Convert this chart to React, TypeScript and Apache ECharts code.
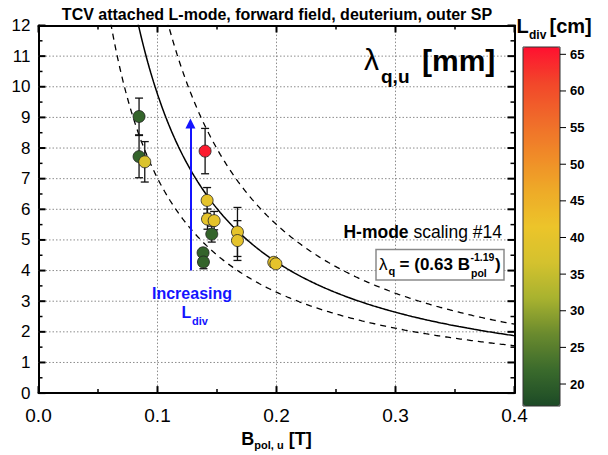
import React, { useEffect, useRef } from "react";
import * as echarts from "echarts";

const FONT = '"Liberation Sans", Arial, Helvetica, sans-serif';

// Measured points: B_pol,u [T], lambda_q,u [mm], error [mm], L_div [cm]
const B_POL = [0.0845, 0.0845, 0.0893, 0.140, 0.1417, 0.142, 0.1476, 0.1456, 0.1672, 0.1672, 0.1383, 0.1386, 0.1977, 0.1995];
const LAMBDA = [9.03, 7.72, 7.55, 7.90, 6.29, 5.68, 5.63, 5.19, 5.26, 4.98, 4.58, 4.28, 4.27, 4.22];
const LAMBDA_ERR = [0.60, 0.69, 0.66, 0.74, 0.42, 0.33, 0.30, 0.26, 0.80, 0.65, 0.13, 0.22, 0.15, 0.12];
const L_DIV = [21, 21, 38, 65, 40, 40, 40, 21, 40, 40, 21, 21, 40, 40];

// H-mode scaling #14 and its band (coefficient, exponent)
const FIT_MAIN = [0.63, 1.19];
const FIT_UPPER = [0.69, 1.29];
const FIT_LOWER = [0.57, 1.09];
const FIT_X_RANGE = [0.05, 0.4];

// Axes and ticks
const X_RANGE = [0, 0.4];
const Y_RANGE = [0, 12];
const X_MAJOR = [0, 0.1, 0.2, 0.3, 0.4];
const X_MINOR = [0.05, 0.15, 0.25, 0.35];
const Y_MAJOR = [0, 1, 2, 3, 4, 5, 6, 7, 8, 9, 10, 11, 12];
const Y_MINOR = [0.5, 1.5, 2.5, 3.5, 4.5, 5.5, 6.5, 7.5, 8.5, 9.5, 10.5, 11.5];
const X_GRID = [0.1, 0.2, 0.3];
const Y_GRID = [1, 2, 3, 4, 5, 6, 7, 8, 9, 10, 11];

// Colour bar
const CBAR_RANGE = [17, 66];
const CBAR_TICKS = [20, 25, 30, 35, 40, 45, 50, 55, 60, 65];
const CBAR_COLORS = ["#1c4a26", "#3a6a2c", "#6a8a2e", "#a8b22f", "#d4c22e", "#ecc42a", "#eeaa28", "#f08a28", "#f06a2a", "#f2462a", "#ff1030"];

// Arrow "Increasing L_div"
const ARROW_X = 0.1277;
const ARROW_Y = [4.0, 8.8];

function fitCurve(p: number[]) {
  const pts: number[][] = [];
  const n = 300;
  for (let i = 0; i <= n; i++) {
    const x = FIT_X_RANGE[0] + ((FIT_X_RANGE[1] - FIT_X_RANGE[0]) * i) / n;
    pts.push([x, p[0] * Math.pow(x, -p[1])]);
  }
  return pts;
}

const txt = (x: number, y: number, text: string, size: number, bold: boolean, extra: any = {}) => ({
  type: "text",
  x,
  y,
  z: 100,
  style: {
    text,
    fontFamily: FONT,
    fontSize: size,
    fontWeight: bold ? "bold" : "normal",
    fill: "#000",
    align: "left",
    verticalAlign: "middle",
    ...extra,
  },
});

export default function App() {
  const ref = useRef<HTMLDivElement>(null);
  useEffect(() => {
    if (!ref.current) return;
    const chart = echarts.init(ref.current, null, { renderer: "svg" });
    const scatterData = B_POL.map((x, i) => [x, LAMBDA[i], L_DIV[i]]);
    const errData = B_POL.map((x, i) => [x, LAMBDA[i] - LAMBDA_ERR[i], LAMBDA[i] + LAMBDA_ERR[i]]);
    // decoration items: [kind, value]
    const deco: number[][] = [
      ...X_GRID.map((v) => [0, v]),
      ...Y_GRID.map((v) => [1, v]),
      ...X_MAJOR.map((v) => [2, v]),
      ...X_MINOR.map((v) => [3, v]),
      ...Y_MAJOR.map((v) => [4, v]),
      ...Y_MINOR.map((v) => [5, v]),
    ];

    const plainAxis = {
      type: "value",
      axisLine: { show: true, onZero: false, lineStyle: { color: "#000", width: 2 } },
      axisTick: { show: false },
      minorTick: { show: false },
      splitLine: { show: false },
    };

    chart.setOption({
      animation: false,
      textStyle: { fontFamily: FONT },
      grid: [
        { left: 38.5, top: 25.5, width: 476, height: 382, show: false },
        { left: 523, top: 47, width: 37, height: 359, show: true, borderColor: "#333", borderWidth: 1, backgroundColor: "transparent", z: 10 },
      ],
      xAxis: [
        {
          ...plainAxis,
          gridIndex: 0,
          position: "bottom",
          min: X_RANGE[0],
          max: X_RANGE[1],
          interval: 0.1,
          axisLabel: { fontSize: 19, color: "#000", margin: 13, formatter: (v: number) => v.toFixed(1) },
          name: "{b|B}{s|pol, u}{b| [T]}",
          nameLocation: "middle",
          nameGap: 32,
          nameTextStyle: {
            rich: {
              b: { fontSize: 18, fontWeight: "bold", color: "#000", lineHeight: 22 },
              s: { fontSize: 11, fontWeight: "bold", color: "#000", lineHeight: 10, verticalAlign: "bottom" },
            },
          },
        },
        { ...plainAxis, gridIndex: 0, position: "top", min: X_RANGE[0], max: X_RANGE[1], interval: 0.1, axisLabel: { show: false } },
        { type: "value", gridIndex: 1, min: 0, max: 1, show: false },
      ],
      yAxis: [
        {
          ...plainAxis,
          gridIndex: 0,
          position: "left",
          min: Y_RANGE[0],
          max: Y_RANGE[1],
          interval: 1,
          axisLabel: { fontSize: 17, color: "#000", margin: 8 },
        },
        { ...plainAxis, gridIndex: 0, position: "right", min: Y_RANGE[0], max: Y_RANGE[1], interval: 1, axisLabel: { show: false } },
        {
          type: "value",
          gridIndex: 1,
          position: "right",
          min: CBAR_RANGE[0],
          max: CBAR_RANGE[1],
          axisLine: { show: false },
          axisTick: { show: false },
          splitLine: { show: false },
          axisLabel: { show: true, customValues: CBAR_TICKS, fontSize: 13, fontWeight: "bold", color: "#000", margin: 10 },
        },
      ],
      visualMap: {
        type: "continuous",
        min: CBAR_RANGE[0],
        max: CBAR_RANGE[1],
        dimension: 2,
        seriesIndex: 0,
        left: 523,
        top: 47,
        itemWidth: 37,
        itemHeight: 359,
        padding: 0,
        calculable: false,
        inRange: { color: CBAR_COLORS },
      },
      series: [
        {
          type: "scatter",
          xAxisIndex: 0,
          yAxisIndex: 0,
          data: scatterData,
          symbolSize: 12,
          z: 6,
          itemStyle: { borderColor: "#222", borderWidth: 0.8, opacity: 1 },
        },
        {
          type: "custom",
          xAxisIndex: 0,
          yAxisIndex: 0,
          z: 4,
          silent: true,
          data: errData,
          encode: { x: 0, y: [1, 2] },
          renderItem: (params: any, api: any) => {
            const x = api.value(0);
            const p1 = api.coord([x, api.value(2)]);
            const p2 = api.coord([x, api.value(1)]);
            const w = 4;
            const st = { stroke: "#111", lineWidth: 1.3 };
            return {
              type: "group",
              children: [
                { type: "line", shape: { x1: p1[0], y1: p1[1], x2: p2[0], y2: p2[1] }, style: st },
                { type: "line", shape: { x1: p1[0] - w, y1: p1[1], x2: p1[0] + w, y2: p1[1] }, style: st },
                { type: "line", shape: { x1: p2[0] - w, y1: p2[1], x2: p2[0] + w, y2: p2[1] }, style: st },
              ],
            };
          },
        },
        {
          type: "line",
          xAxisIndex: 0,
          yAxisIndex: 0,
          data: fitCurve(FIT_MAIN),
          showSymbol: false,
          symbol: "none",
          clip: true,
          z: 3,
          lineStyle: { color: "#000", width: 1.5 },
          silent: true,
          markLine: {
            silent: true,
            symbol: ["none", "triangle"],
            symbolSize: 10,
            label: { show: false },
            lineStyle: { color: "#1414ff", width: 2, type: "solid" },
            data: [[{ coord: [ARROW_X, ARROW_Y[0]] }, { coord: [ARROW_X, ARROW_Y[1]] }]],
          },
        },
        {
          type: "line",
          xAxisIndex: 0,
          yAxisIndex: 0,
          data: fitCurve(FIT_UPPER),
          showSymbol: false,
          symbol: "none",
          clip: true,
          z: 3,
          silent: true,
          lineStyle: { color: "#000", width: 1.3, type: [6, 5] },
        },
        {
          type: "line",
          xAxisIndex: 0,
          yAxisIndex: 0,
          data: fitCurve(FIT_LOWER),
          showSymbol: false,
          symbol: "none",
          clip: true,
          z: 3,
          silent: true,
          lineStyle: { color: "#000", width: 1.3, type: [6, 5] },
        },
        {
          // grid lines and inward ticks on all four sides
          type: "custom",
          xAxisIndex: 0,
          yAxisIndex: 0,
          z: 1,
          silent: true,
          data: deco,
          renderItem: (params: any, api: any) => {
            const kind = api.value(0);
            const v = api.value(1);
            const lb = api.coord([X_RANGE[0], Y_RANGE[0]]);
            const rt = api.coord([X_RANGE[1], Y_RANGE[1]]);
            const dotted = { stroke: "#8c8c8c", lineWidth: 1, lineDash: [1.5, 2] };
            if (kind === 0) {
              const p = api.coord([v, Y_RANGE[0]]);
              return { type: "line", shape: { x1: p[0], y1: lb[1], x2: p[0], y2: rt[1] }, style: dotted };
            }
            if (kind === 1) {
              const p = api.coord([X_RANGE[0], v]);
              return { type: "line", shape: { x1: lb[0], y1: p[1], x2: rt[0], y2: p[1] }, style: dotted };
            }
            const major = kind === 2 || kind === 4;
            const len = major ? 7 : 4;
            const st = { stroke: "#000", lineWidth: major ? 2 : 1.5 };
            if (kind === 2 || kind === 3) {
              const p = api.coord([v, Y_RANGE[0]]);
              return {
                type: "group",
                children: [
                  { type: "line", shape: { x1: p[0], y1: lb[1], x2: p[0], y2: lb[1] - len }, style: st },
                  { type: "line", shape: { x1: p[0], y1: rt[1], x2: p[0], y2: rt[1] + len }, style: st },
                ],
              };
            }
            const p = api.coord([X_RANGE[0], v]);
            return {
              type: "group",
              children: [
                { type: "line", shape: { x1: lb[0], y1: p[1], x2: lb[0] + len, y2: p[1] }, style: st },
                { type: "line", shape: { x1: rt[0], y1: p[1], x2: rt[0] - len, y2: p[1] }, style: st },
              ],
            };
          },
        },
        {
          // colour-bar ticks
          type: "custom",
          xAxisIndex: 2,
          yAxisIndex: 2,
          z: 11,
          silent: true,
          data: CBAR_TICKS.map((v) => [1, v]),
          renderItem: (params: any, api: any) => {
            const p = api.coord([1, api.value(1)]);
            return { type: "line", shape: { x1: p[0], y1: p[1], x2: p[0] + 6, y2: p[1] }, style: { stroke: "#000", lineWidth: 1 } };
          },
        },
      ],
      graphic: [
        txt(277, 14, "TCV attached L-mode, forward field, deuterium, outer SP", 16, true, { align: "center" }),
        // lambda_q,u [mm]
        txt(364, 59, "λ", 30, false),
        txt(381, 76, "q,u", 19, true),
        txt(422, 60, "[mm]", 30, true),
        // H-mode scaling #14
        {
          type: "text",
          x: 502,
          y: 232,
          z: 100,
          style: {
            text: "{b|H-mode}{r| scaling #14}",
            align: "right",
            verticalAlign: "middle",
            fill: "#000",
            rich: {
              b: { fontSize: 17.5, fontWeight: "bold", fontFamily: FONT, fill: "#000" },
              r: { fontSize: 17.5, fontWeight: "normal", fontFamily: FONT, fill: "#000" },
            },
          },
        },
        // formula box
        {
          type: "rect",
          z: 99,
          shape: { x: 376, y: 249.5, width: 128, height: 30.5 },
          style: { fill: "#fff", stroke: "#8a8a8a", lineWidth: 1.5 },
        },
        txt(379, 264, "λ", 17, false),
        txt(388.5, 270.5, "q", 11, true),
        txt(470, 264, " = (0.63 B", 17, true, { align: "right" }),
        txt(470.5, 257, "-1.19", 10.5, true),
        txt(471, 272.5, "pol", 10.5, true),
        txt(495, 264, ")", 17, true),
        // Increasing L_div
        txt(192, 293, "Increasing", 16, true, { align: "center", fill: "#1414ff" }),
        txt(181.5, 312, "L", 16, true, { fill: "#1414ff" }),
        txt(192, 321, "div", 11, true, { fill: "#1414ff" }),
        // colour bar title
        txt(516.5, 26, "L", 20, true),
        txt(529, 35, "div", 12, true),
        txt(549.5, 26, "[cm]", 20, true),
      ],
    });
    return () => chart.dispose();
  }, []);
  return (
    <div style={{ position: "absolute", left: 0, top: 0, width: 608, height: 455 }}>
      <div ref={ref} style={{ width: 608, height: 455 }} />
    </div>
  );
}
